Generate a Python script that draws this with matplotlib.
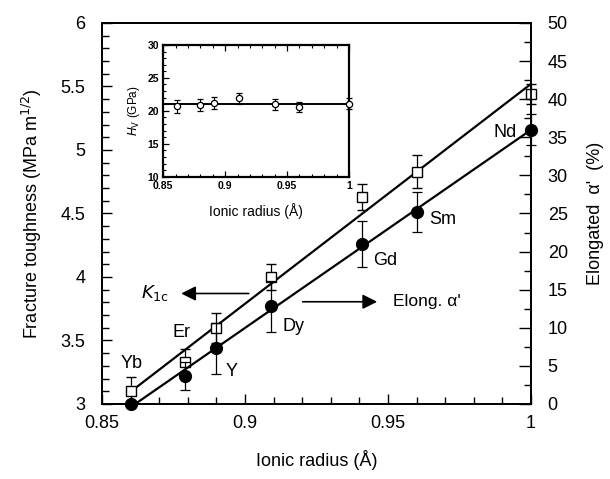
import numpy as np
import matplotlib.pyplot as plt
from matplotlib.ticker import MultipleLocator, FormatStrFormatter

plt.rcParams['font.family'] = ['Liberation Sans', 'DejaVu Sans']

# ionic radius of the rare-earth / Y cations
radius = [0.860, 0.879, 0.890, 0.909, 0.941, 0.960, 1.000]
elements = ['Yb', 'Er', 'Y', 'Dy', 'Gd', 'Sm', 'Nd']

# fracture toughness K1c (MPa m^1/2), open squares, left axis
k1c = [3.10, 3.33, 3.60, 4.00, 4.63, 4.83, 5.44]
k1c_err = [0.11, 0.10, 0.12, 0.10, 0.10, 0.13, 0.08]

# elongated alpha' fraction (%), filled circles, right axis
elong = [0.0, 3.7, 7.3, 12.8, 21.0, 25.2, 36.0]
elong_err = [0.0, 1.8, 3.3, 3.3, 3.0, 2.6, 2.0]

# inset: Vickers hardness (GPa)
hv_radius = [0.861, 0.880, 0.891, 0.911, 0.940, 0.960, 1.000]
hv = [20.7, 20.9, 21.2, 21.9, 21.0, 20.6, 21.1]
hv_err = [1.0, 0.9, 0.9, 0.8, 0.8, 0.8, 0.8]

fig = plt.figure(figsize=(6.1, 4.79), dpi=100)
ax = fig.add_axes([0.1672, 0.1566, 0.7033, 0.7954])
ax2 = ax.twinx()

xfit = np.array([radius[0], radius[-1]])
p1 = np.polyfit(radius, k1c, 1)
p2 = np.polyfit(radius, elong, 1)

ax.plot(xfit, np.polyval(p1, xfit), color='black', lw=1.6, zorder=2)
ax.errorbar(radius, k1c, yerr=k1c_err, fmt='s', ms=6.5, mfc='white', mec='black',
            mew=1.0, ecolor='black', elinewidth=0.9, capsize=3.5, capthick=0.9, zorder=3,
            clip_on=False)
ax2.plot(xfit, np.polyval(p2, xfit), color='black', lw=1.6, zorder=2)
ax2.errorbar(radius, elong, yerr=elong_err, fmt='o', ms=8.5, mfc='black', mec='black',
             ecolor='black', elinewidth=0.9, capsize=3.5, capthick=0.9, zorder=3,
             clip_on=False)

ax.set_xlim(0.85, 1.0)
ax.set_ylim(3, 6)
ax2.set_ylim(0, 50)

ax.xaxis.set_major_locator(MultipleLocator(0.05))
ax.xaxis.set_minor_locator(MultipleLocator(0.01))
ax.yaxis.set_major_locator(MultipleLocator(0.5))
ax.yaxis.set_minor_locator(MultipleLocator(0.1))
ax2.yaxis.set_major_locator(MultipleLocator(5))
ax2.yaxis.set_minor_locator(MultipleLocator(2.5))
ax.xaxis.set_major_formatter(FormatStrFormatter('%g'))
ax.yaxis.set_major_formatter(FormatStrFormatter('%g'))

ax.tick_params(axis='x', which='both', direction='in', top=False, labelsize=13, pad=8)
ax.tick_params(axis='x', which='major', length=7, width=1)
ax.tick_params(axis='x', which='minor', length=5, width=1)
ax.tick_params(axis='y', which='both', direction='in', right=False, labelsize=13, pad=12)
ax.tick_params(axis='y', which='major', length=7, width=1)
ax.tick_params(axis='y', which='minor', length=5, width=1)
ax2.tick_params(axis='y', which='both', direction='in', labelsize=13, pad=12)
ax2.tick_params(axis='y', which='major', length=9, width=1)
ax2.tick_params(axis='y', which='minor', length=5, width=1)
for a in (ax, ax2):
    for s in a.spines.values():
        s.set_linewidth(1.3)

ax.set_xlabel('Ionic radius (Å)', fontsize=13, labelpad=13)
ax.set_ylabel('Fracture toughness (MPa m$^{1/2}$)', fontsize=13, labelpad=12)
ax2.set_ylabel("Elongated  α'  (%)", fontsize=13, labelpad=14)

# element labels
label_pos = [(0.8604, 3.32), (0.8779, 3.56), (0.8954, 3.254), (0.9169, 3.614),
             (0.949, 4.126), (0.9693, 4.449), (0.9909, 5.139)]
for name, (lx, ly) in zip(elements, label_pos):
    ax.text(lx, ly, name, fontsize=13, ha='center', va='center', zorder=5)

# arrows pointing at the axes each series belongs to
ax.annotate('', xy=(0.8767, 3.87), xytext=(0.9023, 3.87),
            arrowprops=dict(arrowstyle='-|>', color='black', lw=1.2, mutation_scale=22))
ax.text(0.8685, 3.87, '$K_{1\\mathrm{c}}$', fontsize=13, ha='center', va='center')
ax.annotate('', xy=(0.9472, 3.805), xytext=(0.9192, 3.805),
            arrowprops=dict(arrowstyle='-|>', color='black', lw=1.2, mutation_scale=22))
ax.text(0.9517, 3.805, "Elong. α'", fontsize=12.5, ha='left', va='center')

# inset: hardness
axi = fig.add_axes([0.2677, 0.6311, 0.3044, 0.275])
axi.axhline(np.mean(hv), color='black', lw=1.4, zorder=2)
axi.errorbar(hv_radius, hv, yerr=hv_err, fmt='o', ms=4.5, mfc='white', mec='black',
             mew=0.9, ecolor='black', elinewidth=0.8, capsize=2.5, capthick=0.8, zorder=3,
             clip_on=False)
axi.set_xlim(0.85, 1.0)
axi.set_ylim(10, 30)
axi.xaxis.set_major_locator(MultipleLocator(0.05))
axi.xaxis.set_minor_locator(MultipleLocator(0.01))
axi.yaxis.set_major_locator(MultipleLocator(5))
axi.yaxis.set_minor_locator(MultipleLocator(1))
axi.xaxis.set_major_formatter(FormatStrFormatter('%g'))
axi.tick_params(which='both', direction='in', top=True, right=False, labelsize=7.5, pad=3)
axi.tick_params(which='major', length=4, width=0.9)
axi.tick_params(which='minor', length=2, width=0.8)
for lab in axi.get_xticklabels() + axi.get_yticklabels():
    lab.set_fontweight('bold')
for s in axi.spines.values():
    s.set_linewidth(1.6)
axi.set_xlabel('Ionic radius (Å)', fontsize=10, labelpad=9)
axi.set_ylabel('$H_\\mathrm{V}$ (GPa)', fontsize=8.5, labelpad=4)

fig.savefig('out.png', dpi=100)
